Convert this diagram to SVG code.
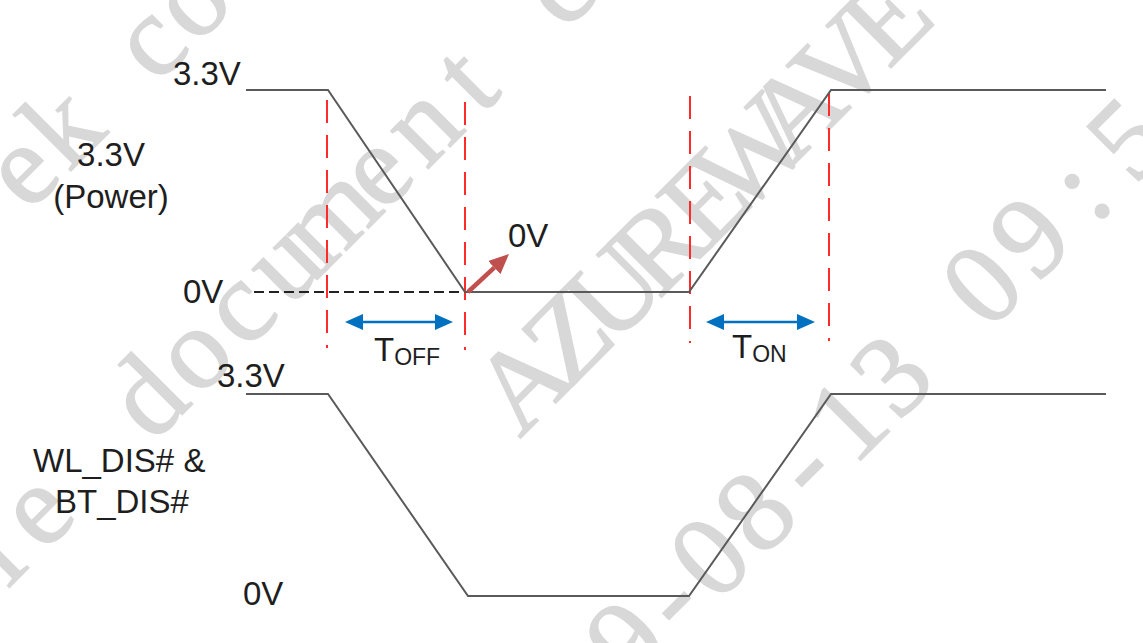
<svg xmlns="http://www.w3.org/2000/svg" width="1143" height="643" viewBox="0 0 1143 643">
  <style>
    .txt { font-family: "Liberation Sans", Arial, sans-serif; font-size: 33px; fill: #1e1e1e; }
    .sub { font-size: 23px; }
    .wave { fill: none; stroke: #5a5a5a; stroke-width: 2; stroke-linejoin: miter; }
    .guide { stroke: #ff2a2a; stroke-width: 2; stroke-dasharray: 23 12; fill: none; }
    .base { stroke: #222; stroke-width: 2; stroke-dasharray: 10 5; fill: none; }
    .span { stroke: #0070c0; stroke-width: 2.5; fill: none; marker-start: url(#blueHead); marker-end: url(#blueHead); }
    .ptr { stroke: #c0504d; stroke-width: 4.5; fill: none; marker-end: url(#redHead); }
    .wm { font-family: "Liberation Serif", "Times New Roman", serif; font-size: 116px; fill: #d8d8d8; stroke: #d8d8d8; stroke-width: 1.5; text-anchor: middle; }
  </style>
  <defs>
    <marker id="blueHead" markerUnits="userSpaceOnUse" markerWidth="18" markerHeight="16" refX="0" refY="8" orient="auto-start-reverse" viewBox="0 0 18 16">
      <path d="M0,0 L18,8 L0,16 z" fill="#0070c0"/>
    </marker>
    <marker id="redHead" markerUnits="userSpaceOnUse" markerWidth="20" markerHeight="18" refX="0" refY="9" orient="auto" viewBox="0 0 20 18">
      <path d="M0,0 L20,9 L0,18 z" fill="#c0504d"/>
    </marker>
  </defs>
  <rect width="1143" height="643" fill="#ffffff"/>

  <g id="watermark" transform="rotate(-45)">
    <text class="wm" x="-105 -45 15 76 135" y="171">ek co</text>
    <text class="wm" x="-395 -335 -256 -177 -113 -49 15 80 145 210 274 338 402" y="422">le document c</text>
    <text class="wm" x="99 163 228 292 357 421 485 550 614" y="678">AZUREWAVE</text>
    <text class="wm" x="-10 50 108 172 238 302 365 429 493 561 630 699" y="934">9-08-13 09:5</text>
  </g>

  <g id="connectors">
    <g id="guides">
      <line class="guide" x1="327" y1="100" x2="327" y2="348"/>
      <line class="guide" x1="465" y1="102" x2="465" y2="350"/>
      <line class="guide" x1="690" y1="96" x2="690" y2="343"/>
      <line class="guide" x1="829" y1="93" x2="829" y2="341"/>
    </g>
    <line id="zero-ref" class="base" x1="254" y1="292" x2="465" y2="292"/>
    <polyline id="power-wave" class="wave" points="246,90 328,90 465,292 689,292 831,90 1106,90"/>
    <polyline id="dis-wave" class="wave" points="246,394 328,394 468,596 689,596 831,394 1106,394"/>
    <line id="toff-span" class="span" x1="363" y1="322" x2="435" y2="322"/>
    <line id="ton-span" class="span" x1="724" y1="322" x2="797" y2="322"/>
    <line id="zero-pointer" class="ptr" x1="468" y1="292" x2="494.3" y2="267.6"/>
  </g>

  <g id="power-labels">
    <text class="txt" x="173" y="85">3.3V</text>
    <text class="txt" x="111" y="166" text-anchor="middle">3.3V</text>
    <text class="txt" x="111" y="208" text-anchor="middle">(Power)</text>
    <text class="txt" x="183" y="303">0V</text>
    <text class="txt" x="508" y="247">0V</text>
  </g>

  <g id="toff-label">
    <text class="txt" x="374" y="361">T<tspan class="sub" y="365">OFF</tspan></text>
  </g>
  <g id="ton-label">
    <text class="txt" x="732" y="358">T<tspan class="sub" y="362">ON</tspan></text>
  </g>

  <g id="dis-labels">
    <text class="txt" x="217" y="387">3.3V</text>
    <text class="txt" x="33" y="472">WL_DIS# &amp;</text>
    <text class="txt" x="55" y="513">BT_DIS#</text>
    <text class="txt" x="243" y="605">0V</text>
  </g>
</svg>
